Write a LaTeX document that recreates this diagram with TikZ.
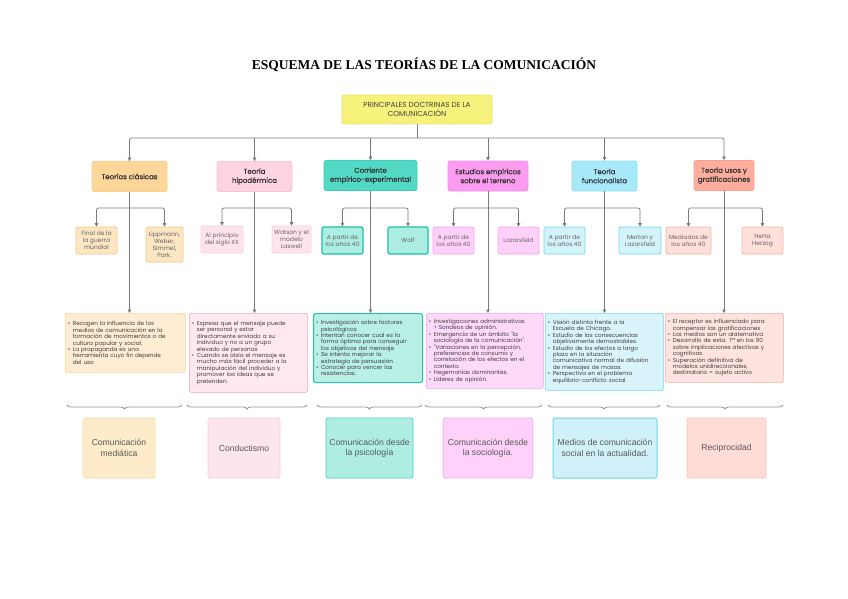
\documentclass[tikz,border=0pt]{standalone}
\usepackage{fontspec}
\usetikzlibrary{arrows.meta,decorations.pathreplacing}
\newfontfamily\gfont{Poppins}
\newfontfamily\hfont{Poppins}[FakeBold=0.6]
\newfontfamily\afont{Liberation Sans}
\newfontfamily\tfont{Liberation Serif}
\newcommand{\bit}[1]{{\let\\\newline\hangindent=5pt\hangafter=1\noindent\makebox[5pt][l]{\textbullet}#1\par}}
\definecolor{lc}{HTML}{7A7A7A}
\definecolor{tx}{HTML}{444444}
\definecolor{yf}{HTML}{F7F27B}\definecolor{yd}{HTML}{ECE46C}
% column 1
\definecolor{hAf}{HTML}{FDD699}\definecolor{hAd}{HTML}{FAD08A}
\definecolor{sAf}{HTML}{FDE6C3}\definecolor{sAd}{HTML}{F8C77E}
\definecolor{bAf}{HTML}{FEEDD3}\definecolor{bAd}{HTML}{F6D6A0}
\definecolor{oAf}{HTML}{FDEBC9}\definecolor{oAd}{HTML}{F9DCA5}
% column 2
\definecolor{hBf}{HTML}{FFD4E1}\definecolor{hBd}{HTML}{FBC3D4}
\definecolor{sBf}{HTML}{FFE4EC}\definecolor{sBd}{HTML}{FCD0DE}
\definecolor{bBf}{HTML}{FFE8EF}\definecolor{bBd}{HTML}{F2A6BF}
\definecolor{oBf}{HTML}{FDE5EE}\definecolor{oBd}{HTML}{F9CEDC}
% column 3
\definecolor{hCf}{HTML}{52D9C5}\definecolor{hCd}{HTML}{43CDB8}
\definecolor{sCf}{HTML}{ACEEE1}\definecolor{sCd}{HTML}{1DBFA7}
\definecolor{bCf}{HTML}{B8F0E5}\definecolor{bCd}{HTML}{25C1A9}
\definecolor{oCf}{HTML}{AEEDE2}\definecolor{oCd}{HTML}{4CD3BD}
% column 4
\definecolor{hDf}{HTML}{FC9CF0}\definecolor{hDd}{HTML}{F68DE9}
\definecolor{sDf}{HTML}{FFD0FA}\definecolor{sDd}{HTML}{F6A3EC}
\definecolor{bDf}{HTML}{FFD9FA}\definecolor{bDd}{HTML}{F3A0EA}
\definecolor{oDf}{HTML}{FFD0FA}\definecolor{oDd}{HTML}{F4ADEC}
% column 5
\definecolor{hEf}{HTML}{A7E9F8}\definecolor{hEd}{HTML}{93E0F2}
\definecolor{sEf}{HTML}{D3F3FB}\definecolor{sEd}{HTML}{74D8EE}
\definecolor{bEf}{HTML}{D9F4FB}\definecolor{bEd}{HTML}{72D7EE}
\definecolor{oEf}{HTML}{D0F1FA}\definecolor{oEd}{HTML}{6ED5EC}
% column 6
\definecolor{hFf}{HTML}{FFAE9E}\definecolor{hFd}{HTML}{FA9F8E}
\definecolor{sFf}{HTML}{FFE0DA}\definecolor{sFd}{HTML}{F7B2A6}
\definecolor{bFf}{HTML}{FFE3DE}\definecolor{bFd}{HTML}{F5ADA2}
\definecolor{oFf}{HTML}{FFDCD5}\definecolor{oFd}{HTML}{F8C2B8}
\tikzset{
  box/.style={rounded corners=2pt, align=center, inner sep=1pt, line width=0.7pt, text=tx},
  topbox/.style={box, fill=yf, draw=yd, font={\gfont\fontsize{7.3}{9}\selectfont}, minimum width=150pt, minimum height=29pt},
  hdr/.style={box, font={\hfont\fontsize{7}{9}\selectfont}, text=black!80, minimum height=30pt},
  sbox/.style={box, font={\gfont\fontsize{6}{7}\selectfont}, text=black!60, minimum height=27pt},
  bbox/.style={box, anchor=north west, align=left, inner xsep=2.5pt, inner ysep=2pt,
     font={\gfont\fontsize{5.7}{6.4}\selectfont\raggedright}, text=black!75},
  obox/.style={box, font={\afont\fontsize{8.6}{10.5}\selectfont}, text=black!65, minimum height=60pt},
  arr/.style={draw=lc, line width=0.8pt, -{Triangle[length=3.5pt,width=3.5pt]}},
  ln/.style={draw=lc, line width=0.8pt},
  brc/.style={draw=lc!80, line width=0.8pt, decorate, decoration={brace, amplitude=4pt, mirror}}
}
\begin{document}
\begin{tikzpicture}[x=1pt,y=-1pt]
\useasboundingbox[fill=white] (0,0) rectangle (848,599);

\node[font={\tfont\bfseries\fontsize{13.5}{15}\selectfont}] (title) at (424,65) {ESQUEMA DE LAS TEORÍAS DE LA COMUNICACIÓN};

\node[topbox] (top) at (417,109.5) {PRINCIPALES DOCTRINAS DE LA\\COMUNICACIÓN};

% headers
\node[hdr, fill=hAf, draw=hAd, minimum width=75pt] (h1) at (129.5,176.5) {Teorías clásicas};
\node[hdr, fill=hBf, draw=hBd, minimum width=75pt] (h2) at (254.5,176.5) {Teoría\\hipodérmica};
\node[hdr, fill=hCf, draw=hCd, minimum width=93pt] (h3) at (370.5,175.5) {Corriente\\empírico-experimental};
\node[hdr, fill=hDf, draw=hDd, minimum width=80pt] (h4) at (488,176) {Estudios empíricos\\sobre el terreno};
\node[hdr, fill=hEf, draw=hEd, minimum width=65pt] (h5) at (604.5,176) {Teoría\\funcionalista};
\node[hdr, fill=hFf, draw=hFd, minimum width=60pt] (h6) at (724,175.5) {Teoría usos y\\gratificaciones};

% small boxes
\node[sbox, fill=sAf, draw=sAd, minimum width=41pt] (s1a) at (96.5,240.5) {Final de la\\la guerra\\mundial};
\node[sbox, fill=sAf, draw=sAd, minimum width=37pt, minimum height=35pt] (s1b) at (164.5,244.5) {Lippmann,\\Weber,\\Simmel,\\Park.};
\node[sbox, fill=sBf, draw=sBd, minimum width=42pt] (s2a) at (222,239.5) {Al principio\\del siglo XX};
\node[sbox, fill=sBf, draw=sBd, minimum width=39pt] (s2b) at (291.5,239.5) {Watson y el\\modelo\\Laswell};
\node[sbox, fill=sCf, draw=sCd, line width=1.2pt, minimum width=41pt] (s3a) at (342.5,240.5) {A partir de\\los años 40};
\node[sbox, fill=sCf, draw=sCd, line width=1.2pt, minimum width=40pt] (s3b) at (408,240.5) {Wolf};
\node[sbox, fill=sDf, draw=sDd, minimum width=41pt] (s4a) at (453.5,240.5) {A partir de\\los años 40};
\node[sbox, fill=sDf, draw=sDd, minimum width=41pt] (s4b) at (518.5,240.5) {Lazarsfeld};
\node[sbox, fill=sEf, draw=sEd, minimum width=41pt] (s5a) at (564.5,240.5) {A partir de\\los años 40};
\node[sbox, fill=sEf, draw=sEd, minimum width=42pt] (s5b) at (640,240.5) {Merton y\\Lazarsfeld};
\node[sbox, fill=sFf, draw=sFd, minimum width=45pt] (s6a) at (688.5,240.5) {Mediados de\\los años 40};
\node[sbox, fill=sFf, draw=sFd, minimum width=41pt] (s6b) at (762.5,240.5) {Herta\\Herzog};

% bullet boxes
\node[bbox, fill=bAf, draw=bAd, text width=115pt, minimum height=59pt] (b1) at (65,313) {%
\bit{Recogen la influencia de los\\medios de comunicación en la\\formación de movimientos o de\\cultura popular y social.}
\bit{La propaganda es una\\herramienta cuyo fin depende\\del uso}};
\node[bbox, fill=bBf, draw=bBd, text width=113pt, minimum height=79pt] (b2) at (189,313) {%
\bit{Expresa que el mensaje puede\\ser personal y estar\\directamente enviado a su\\individuo y no a un grupo\\elevado de personas}
\bit{Cuando se aísla el mensaje es\\mucho más fácil proceder a la\\manipulación del individuo y\\promover las ideas que se\\pretenden.}};
\node[bbox, fill=bCf, draw=bCd, line width=1pt, text width=104pt, minimum height=69pt] (b3) at (313,313) {%
\bit{Investigación sobre factores\\psicológicos}
\bit{Intentan conocer cual es la\\forma óptima para conseguir\\los objetivos del mensaje}
\bit{Se intenta mejorar la\\estrategia de persuasión}
\bit{Conocer para vencer las\\resistencias.}};
\node[bbox, fill=bDf, draw=bDd, text width=112pt, minimum height=75pt] (b4) at (426,313) {%
\bit{Investigaciones administrativas\\> Sondeos de opinión.}
\bit{Emergencia de un ámbito "la\\sociología de la comunicación".}
\bit{"Variaciones en la percepción,\\preferencias de consumo y\\correlación de los efectos en el\\contexto.}
\bit{Hegemonías dominantes.}
\bit{Líderes de opinión.}};
\node[bbox, fill=bEf, draw=bEd, text width=113pt, minimum height=77pt] (b5) at (545,313) {%
\bit{Visión distinta frente a la\\Escuela de Chicago.}
\bit{Estudio de las consecuencias\\objetivamente demostrables.}
\bit{Estudio de los efectos a largo\\plazo en la situación\\comunicativa normal de difusión\\de mensajes de masas.}
\bit{Perspectiva en el problema\\equilibrio-conflicto social.}};
\node[bbox, fill=bFf, draw=bFd, text width=113pt, minimum height=69pt] (b6) at (665,313) {%
\bit{El receptor es influenciado para\\compensar las gratificaciones}
\bit{Los medios son un alaternativa}
\bit{Desarrollo de esta. Tª en los 90\\sobre implicaciones afectivas y\\cognitivas}
\bit{Superación definitiva de\\modelos unidireccionales,\\destinatario = sujeto activo}};

% bottom boxes
\node[obox, fill=oAf, draw=oAd, minimum width=72pt] (o1) at (119,448) {Comunicación\\mediática};
\node[obox, fill=oBf, draw=oBd, minimum width=72pt] (o2) at (244,448) {Conductismo};
\node[obox, fill=oCf, draw=oCd, minimum width=87pt] (o3) at (369.5,448) {Comunicación desde\\la psicología};
\node[obox, fill=oDf, draw=oDd, minimum width=90pt] (o4) at (488,448) {Comunicación desde\\la sociología.};
\node[obox, fill=oEf, draw=oEd, line width=1pt, minimum width=104pt] (o5) at (605,448) {Medios de comunicación\\social en la actualidad.};
\node[obox, fill=oFf, draw=oFd, minimum width=79pt] (o6) at (726.5,448) {Reciprocidad};

% top bus
\coordinate (bus) at (417,138);
\draw[ln] (top.south) -- (bus);
\draw[arr, rounded corners=2pt] (bus) -| (h1.north);
\draw[arr, rounded corners=2pt] (bus) -| (h6.north);
\foreach \h in {h2,h3,h4,h5} \draw[arr] (\h.north |- bus) -- (\h.north);

% branches to small boxes
\foreach \c in {1,...,6} {
  \draw[arr, rounded corners=2pt] (h\c.south |- 0,208) -| (s\c a.north);
  \draw[arr, rounded corners=2pt] (h\c.south |- 0,208) -| (s\c b.north);
  \draw[arr] (h\c.south) -- (h\c.south |- b\c.north);
}

% braces
\draw[brc] (67,405) -- (182,405);
\draw[brc] (187,405) -- (307,405);
\draw[brc] (317,405) -- (422,405);
\draw[brc] (425,405) -- (542,405);
\draw[brc] (548,405) -- (660,405);
\draw[brc] (667,405) -- (783,405);
\end{tikzpicture}
\end{document}
